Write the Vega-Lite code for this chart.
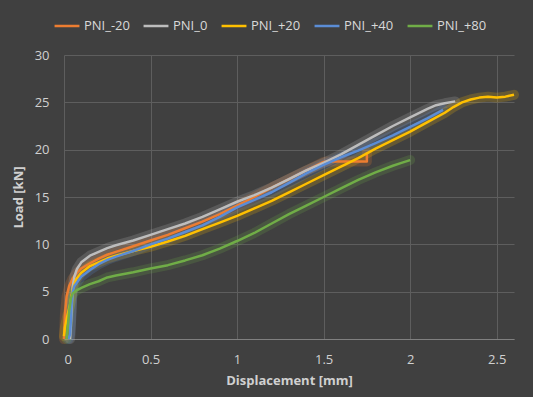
{
  "$schema": "https://vega.github.io/schema/vega-lite/v6.json",
  "width": 450,
  "height": 284,
  "autosize": "none",
  "padding": {"left": 64, "top": 55, "right": 19, "bottom": 58},
  "background": "#404040",
  "config": {
    "view": {"stroke": null},
    "font": "Open Sans",
    "axis": {
      "gridColor": "#5e5e5e",
      "gridWidth": 1,
      "ticks": false,
      "labelColor": "#d0d0d0",
      "labelFontSize": 13,
      "titleColor": "#d0d0d0",
      "titleFontSize": 13,
      "titleFontWeight": "bold"
    },
    "legend": {
      "labelColor": "#d9d9d9",
      "labelFontSize": 13
    }
  },
  "data": {
    "values": [
      {"s": "PNI_-20", "i": 0, "x": 0, "y": 0},
      {"s": "PNI_-20", "i": 1, "x": 0.005, "y": 2.5},
      {"s": "PNI_-20", "i": 2, "x": 0.015, "y": 4.5},
      {"s": "PNI_-20", "i": 3, "x": 0.03, "y": 5.6},
      {"s": "PNI_-20", "i": 4, "x": 0.05, "y": 6.4},
      {"s": "PNI_-20", "i": 5, "x": 0.075, "y": 7.0},
      {"s": "PNI_-20", "i": 6, "x": 0.1, "y": 7.45},
      {"s": "PNI_-20", "i": 7, "x": 0.15, "y": 8.0},
      {"s": "PNI_-20", "i": 8, "x": 0.2, "y": 8.5},
      {"s": "PNI_-20", "i": 9, "x": 0.25, "y": 8.9},
      {"s": "PNI_-20", "i": 10, "x": 0.3, "y": 9.2},
      {"s": "PNI_-20", "i": 11, "x": 0.4, "y": 9.8},
      {"s": "PNI_-20", "i": 12, "x": 0.5, "y": 10.4},
      {"s": "PNI_-20", "i": 13, "x": 0.6, "y": 11.0},
      {"s": "PNI_-20", "i": 14, "x": 0.7, "y": 11.7},
      {"s": "PNI_-20", "i": 15, "x": 0.8, "y": 12.4},
      {"s": "PNI_-20", "i": 16, "x": 0.9, "y": 13.2},
      {"s": "PNI_-20", "i": 17, "x": 1.0, "y": 14.1},
      {"s": "PNI_-20", "i": 18, "x": 1.1, "y": 15.0},
      {"s": "PNI_-20", "i": 19, "x": 1.2, "y": 16.0},
      {"s": "PNI_-20", "i": 20, "x": 1.3, "y": 16.9},
      {"s": "PNI_-20", "i": 21, "x": 1.4, "y": 17.8},
      {"s": "PNI_-20", "i": 22, "x": 1.5, "y": 18.7},
      {"s": "PNI_-20", "i": 23, "x": 1.52, "y": 18.75},
      {"s": "PNI_-20", "i": 24, "x": 1.75, "y": 18.75},
      {"s": "PNI_-20", "i": 25, "x": 1.75, "y": 19.7},

      {"s": "PNI_0", "i": 0, "x": 0.035, "y": 0},
      {"s": "PNI_0", "i": 1, "x": 0.04, "y": 1.5},
      {"s": "PNI_0", "i": 2, "x": 0.045, "y": 3.5},
      {"s": "PNI_0", "i": 3, "x": 0.05, "y": 5.5},
      {"s": "PNI_0", "i": 4, "x": 0.06, "y": 6.6},
      {"s": "PNI_0", "i": 5, "x": 0.075, "y": 7.4},
      {"s": "PNI_0", "i": 6, "x": 0.1, "y": 8.1},
      {"s": "PNI_0", "i": 7, "x": 0.15, "y": 8.8},
      {"s": "PNI_0", "i": 8, "x": 0.2, "y": 9.2},
      {"s": "PNI_0", "i": 9, "x": 0.25, "y": 9.6},
      {"s": "PNI_0", "i": 10, "x": 0.3, "y": 9.9},
      {"s": "PNI_0", "i": 11, "x": 0.4, "y": 10.4},
      {"s": "PNI_0", "i": 12, "x": 0.5, "y": 11.0},
      {"s": "PNI_0", "i": 13, "x": 0.6, "y": 11.6},
      {"s": "PNI_0", "i": 14, "x": 0.7, "y": 12.2},
      {"s": "PNI_0", "i": 15, "x": 0.8, "y": 12.9},
      {"s": "PNI_0", "i": 16, "x": 0.9, "y": 13.7},
      {"s": "PNI_0", "i": 17, "x": 1.0, "y": 14.5},
      {"s": "PNI_0", "i": 18, "x": 1.1, "y": 15.2},
      {"s": "PNI_0", "i": 19, "x": 1.2, "y": 16.0},
      {"s": "PNI_0", "i": 20, "x": 1.3, "y": 16.9},
      {"s": "PNI_0", "i": 21, "x": 1.4, "y": 17.8},
      {"s": "PNI_0", "i": 22, "x": 1.5, "y": 18.6},
      {"s": "PNI_0", "i": 23, "x": 1.6, "y": 19.5},
      {"s": "PNI_0", "i": 24, "x": 1.7, "y": 20.5},
      {"s": "PNI_0", "i": 25, "x": 1.8, "y": 21.5},
      {"s": "PNI_0", "i": 26, "x": 1.9, "y": 22.5},
      {"s": "PNI_0", "i": 27, "x": 2.0, "y": 23.4},
      {"s": "PNI_0", "i": 28, "x": 2.1, "y": 24.3},
      {"s": "PNI_0", "i": 29, "x": 2.15, "y": 24.7},
      {"s": "PNI_0", "i": 30, "x": 2.2, "y": 24.9},
      {"s": "PNI_0", "i": 31, "x": 2.26, "y": 25.1},

      {"s": "PNI_+20", "i": 0, "x": 0.0, "y": 0.3},
      {"s": "PNI_+20", "i": 1, "x": 0.005, "y": 1.2},
      {"s": "PNI_+20", "i": 2, "x": 0.02, "y": 2.5},
      {"s": "PNI_+20", "i": 3, "x": 0.035, "y": 3.6},
      {"s": "PNI_+20", "i": 4, "x": 0.05, "y": 5.2},
      {"s": "PNI_+20", "i": 5, "x": 0.07, "y": 6.3},
      {"s": "PNI_+20", "i": 6, "x": 0.1, "y": 7.0},
      {"s": "PNI_+20", "i": 7, "x": 0.15, "y": 7.7},
      {"s": "PNI_+20", "i": 8, "x": 0.2, "y": 8.1},
      {"s": "PNI_+20", "i": 9, "x": 0.25, "y": 8.5},
      {"s": "PNI_+20", "i": 10, "x": 0.3, "y": 8.8},
      {"s": "PNI_+20", "i": 11, "x": 0.4, "y": 9.3},
      {"s": "PNI_+20", "i": 12, "x": 0.5, "y": 9.75},
      {"s": "PNI_+20", "i": 13, "x": 0.6, "y": 10.3},
      {"s": "PNI_+20", "i": 14, "x": 0.7, "y": 10.9},
      {"s": "PNI_+20", "i": 15, "x": 0.8, "y": 11.6},
      {"s": "PNI_+20", "i": 16, "x": 0.9, "y": 12.3},
      {"s": "PNI_+20", "i": 17, "x": 1.0, "y": 13.0},
      {"s": "PNI_+20", "i": 18, "x": 1.1, "y": 13.8},
      {"s": "PNI_+20", "i": 19, "x": 1.2, "y": 14.6},
      {"s": "PNI_+20", "i": 20, "x": 1.3, "y": 15.5},
      {"s": "PNI_+20", "i": 21, "x": 1.4, "y": 16.4},
      {"s": "PNI_+20", "i": 22, "x": 1.5, "y": 17.3},
      {"s": "PNI_+20", "i": 23, "x": 1.6, "y": 18.2},
      {"s": "PNI_+20", "i": 24, "x": 1.7, "y": 19.1},
      {"s": "PNI_+20", "i": 25, "x": 1.8, "y": 20.1},
      {"s": "PNI_+20", "i": 26, "x": 1.9, "y": 21.0},
      {"s": "PNI_+20", "i": 27, "x": 2.0, "y": 21.9},
      {"s": "PNI_+20", "i": 28, "x": 2.1, "y": 22.9},
      {"s": "PNI_+20", "i": 29, "x": 2.2, "y": 23.9},
      {"s": "PNI_+20", "i": 30, "x": 2.25, "y": 24.5},
      {"s": "PNI_+20", "i": 31, "x": 2.3, "y": 25.0},
      {"s": "PNI_+20", "i": 32, "x": 2.35, "y": 25.3},
      {"s": "PNI_+20", "i": 33, "x": 2.4, "y": 25.5},
      {"s": "PNI_+20", "i": 34, "x": 2.45, "y": 25.6},
      {"s": "PNI_+20", "i": 35, "x": 2.5, "y": 25.5},
      {"s": "PNI_+20", "i": 36, "x": 2.55, "y": 25.6},
      {"s": "PNI_+20", "i": 37, "x": 2.6, "y": 25.8},

      {"s": "PNI_+40", "i": 0, "x": 0.025, "y": 0},
      {"s": "PNI_+40", "i": 1, "x": 0.035, "y": 0.5},
      {"s": "PNI_+40", "i": 2, "x": 0.04, "y": 2.0},
      {"s": "PNI_+40", "i": 3, "x": 0.045, "y": 4.0},
      {"s": "PNI_+40", "i": 4, "x": 0.05, "y": 5.0},
      {"s": "PNI_+40", "i": 5, "x": 0.06, "y": 5.6},
      {"s": "PNI_+40", "i": 6, "x": 0.08, "y": 6.1},
      {"s": "PNI_+40", "i": 7, "x": 0.1, "y": 6.6},
      {"s": "PNI_+40", "i": 8, "x": 0.15, "y": 7.3},
      {"s": "PNI_+40", "i": 9, "x": 0.2, "y": 7.9},
      {"s": "PNI_+40", "i": 10, "x": 0.25, "y": 8.35},
      {"s": "PNI_+40", "i": 11, "x": 0.3, "y": 8.7},
      {"s": "PNI_+40", "i": 12, "x": 0.4, "y": 9.3},
      {"s": "PNI_+40", "i": 13, "x": 0.5, "y": 10.0},
      {"s": "PNI_+40", "i": 14, "x": 0.6, "y": 10.6},
      {"s": "PNI_+40", "i": 15, "x": 0.7, "y": 11.3},
      {"s": "PNI_+40", "i": 16, "x": 0.8, "y": 12.0},
      {"s": "PNI_+40", "i": 17, "x": 0.9, "y": 12.9},
      {"s": "PNI_+40", "i": 18, "x": 1.0, "y": 13.9},
      {"s": "PNI_+40", "i": 19, "x": 1.1, "y": 14.7},
      {"s": "PNI_+40", "i": 20, "x": 1.2, "y": 15.5},
      {"s": "PNI_+40", "i": 21, "x": 1.3, "y": 16.5},
      {"s": "PNI_+40", "i": 22, "x": 1.4, "y": 17.5},
      {"s": "PNI_+40", "i": 23, "x": 1.5, "y": 18.4},
      {"s": "PNI_+40", "i": 24, "x": 1.6, "y": 19.2},
      {"s": "PNI_+40", "i": 25, "x": 1.7, "y": 19.9},
      {"s": "PNI_+40", "i": 26, "x": 1.8, "y": 20.7},
      {"s": "PNI_+40", "i": 27, "x": 1.9, "y": 21.5},
      {"s": "PNI_+40", "i": 28, "x": 2.0, "y": 22.4},
      {"s": "PNI_+40", "i": 29, "x": 2.1, "y": 23.3},
      {"s": "PNI_+40", "i": 30, "x": 2.19, "y": 24.2},

      {"s": "PNI_+80", "i": 0, "x": 0.015, "y": 0},
      {"s": "PNI_+80", "i": 1, "x": 0.02, "y": 1.0},
      {"s": "PNI_+80", "i": 2, "x": 0.03, "y": 3.0},
      {"s": "PNI_+80", "i": 3, "x": 0.04, "y": 4.3},
      {"s": "PNI_+80", "i": 4, "x": 0.05, "y": 4.8},
      {"s": "PNI_+80", "i": 5, "x": 0.07, "y": 5.1},
      {"s": "PNI_+80", "i": 6, "x": 0.1, "y": 5.4},
      {"s": "PNI_+80", "i": 7, "x": 0.15, "y": 5.8},
      {"s": "PNI_+80", "i": 8, "x": 0.2, "y": 6.1},
      {"s": "PNI_+80", "i": 9, "x": 0.25, "y": 6.5},
      {"s": "PNI_+80", "i": 10, "x": 0.3, "y": 6.7},
      {"s": "PNI_+80", "i": 11, "x": 0.4, "y": 7.05},
      {"s": "PNI_+80", "i": 12, "x": 0.5, "y": 7.45},
      {"s": "PNI_+80", "i": 13, "x": 0.6, "y": 7.8},
      {"s": "PNI_+80", "i": 14, "x": 0.7, "y": 8.3},
      {"s": "PNI_+80", "i": 15, "x": 0.8, "y": 8.85},
      {"s": "PNI_+80", "i": 16, "x": 0.9, "y": 9.55},
      {"s": "PNI_+80", "i": 17, "x": 1.0, "y": 10.35},
      {"s": "PNI_+80", "i": 18, "x": 1.1, "y": 11.2},
      {"s": "PNI_+80", "i": 19, "x": 1.2, "y": 12.2},
      {"s": "PNI_+80", "i": 20, "x": 1.3, "y": 13.2},
      {"s": "PNI_+80", "i": 21, "x": 1.4, "y": 14.1},
      {"s": "PNI_+80", "i": 22, "x": 1.5, "y": 15.0},
      {"s": "PNI_+80", "i": 23, "x": 1.6, "y": 15.9},
      {"s": "PNI_+80", "i": 24, "x": 1.7, "y": 16.8},
      {"s": "PNI_+80", "i": 25, "x": 1.8, "y": 17.6},
      {"s": "PNI_+80", "i": 26, "x": 1.9, "y": 18.3},
      {"s": "PNI_+80", "i": 27, "x": 1.95, "y": 18.6},
      {"s": "PNI_+80", "i": 28, "x": 2.0, "y": 18.9}
    ]
  },
  "encoding": {
    "x": {"field": "x", "type": "quantitative", "scale": {"domain": [0, 2.6], "nice": false},
      "axis": {"values": [0, 0.5, 1, 1.5, 2, 2.5], "format": "~g", "title": "Displacement [mm]", "grid": true, "domainColor": "#808080", "labelPadding": 14, "titlePadding": 8}},
    "y": {"field": "y", "type": "quantitative", "scale": {"domain": [0, 30], "nice": false},
      "axis": {"values": [0, 5, 10, 15, 20, 25, 30], "title": "Load [kN]", "grid": true, "domain": false, "labelPadding": 15, "titlePadding": 9}},
    "color": {"field": "s", "type": "nominal",
      "scale": {"domain": ["PNI_-20", "PNI_0", "PNI_+20", "PNI_+40", "PNI_+80"], "range": ["#ED7D31", "#BDBDBD", "#FFC000", "#5B8DD6", "#70AD47"]},
      "legend": {"orient": "none", "legendX": -11, "legendY": -43, "direction": "horizontal", "columns": 5, "columnPadding": 8, "symbolType": "stroke", "symbolSize": 620, "symbolStrokeWidth": 2.5, "symbolOpacity": 1, "labelOffset": 3, "title": null}},
    "order": {"field": "i", "type": "quantitative"}
  },
  "layer": [
    {"mark": {"type": "line", "strokeWidth": 10, "opacity": 0.2, "strokeCap": "round", "strokeJoin": "round"}},
    {"mark": {"type": "line", "strokeWidth": 2.5, "strokeJoin": "round"}}
  ]
}
